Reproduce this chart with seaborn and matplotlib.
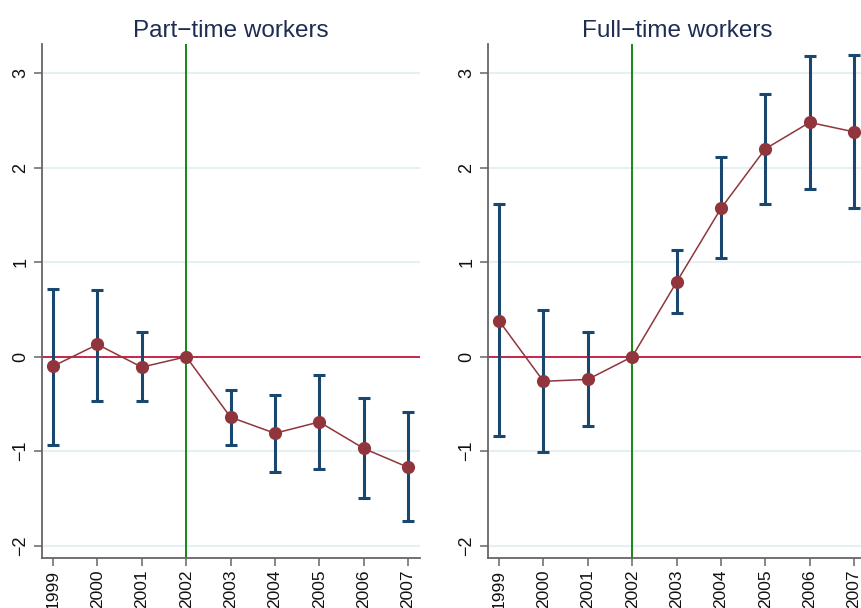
import matplotlib
matplotlib.use("Agg")
import matplotlib.pyplot as plt
import seaborn as sns
import pandas as pd
import numpy as np

# Event-study estimates relative to 2002
years = [1999, 2000, 2001, 2002, 2003, 2004, 2005, 2006, 2007]
year_labels = ["1999", "2000", "2001", "2002", "2003", "2004", "2005", "2006", "2007"]

pt_coef = [-0.10, 0.13, -0.11, 0.0, -0.64, -0.81, -0.69, -0.97, -1.17]
pt_lo = [-0.93, -0.47, -0.47, 0.0, -0.93, -1.22, -1.19, -1.50, -1.74]
pt_hi = [0.72, 0.71, 0.26, 0.0, -0.35, -0.41, -0.19, -0.44, -0.59]

ft_coef = [0.38, -0.26, -0.24, 0.0, 0.79, 1.57, 2.20, 2.48, 2.38]
ft_lo = [-0.84, -1.01, -0.73, 0.0, 0.46, 1.05, 1.62, 1.78, 1.57]
ft_hi = [1.62, 0.49, 0.26, 0.0, 1.13, 2.11, 2.78, 3.18, 3.19]

titles = ["Part\u2212time workers", "Full\u2212time workers"]
y_ticks = [-2, -1, 0, 1, 2, 3]
y_tick_labels = ["\u22122", "\u22121", "0", "1", "2", "3"]
event_year = 2002

sns.set_theme(style="white")
plt.rcParams["font.family"] = ["Liberation Sans", "DejaVu Sans"]

NAVY = "#1a476f"
MAROON = "#90353b"
ZERO_RED = "#c8264a"
GREEN = "#007f00"
GRID = "#e6eff1"
SPINE = "#666666"

W, H = 861, 608
fig = plt.figure(figsize=(W / 100, H / 100), dpi=100)
fig.patch.set_facecolor("white")

panels = [
    (pt_coef, pt_lo, pt_hi, 42),
    (ft_coef, ft_lo, ft_hi, 488),
]

for (coef, lo, hi, left_px), title in zip(panels, titles):
    ax = fig.add_axes([left_px / W, (H - 558) / H, 378 / W, (558 - 44) / H])
    df = pd.DataFrame({"year": years, "coef": coef, "lo": lo, "hi": hi})

    ax.set_xlim(1998.75, 2007.27)
    ax.set_ylim(-2.13, 3.31)

    for yt in y_ticks:
        ax.axhline(yt, color=GRID, lw=1.5, zorder=0)
    ax.axhline(0, color=ZERO_RED, lw=1.4, zorder=1)
    ax.axvline(event_year, color=GREEN, lw=1.3, zorder=1)

    ci = df[df["hi"] != df["lo"]]
    ax.errorbar(ci["year"], (ci["lo"] + ci["hi"]) / 2,
                yerr=(ci["hi"] - ci["lo"]) / 2, fmt="none",
                ecolor=NAVY, elinewidth=2.2, capsize=4.3, capthick=2.2,
                zorder=2)

    sns.lineplot(data=df, x="year", y="coef", ax=ax, color=MAROON,
                 lw=1.1, zorder=3, legend=False)
    sns.scatterplot(data=df, x="year", y="coef", ax=ax, color=MAROON,
                    s=90, edgecolor=MAROON, linewidth=0, zorder=4,
                    legend=False)

    ax.set_xticks(years)
    ax.set_xticklabels(year_labels, rotation=90, fontsize=12.5)
    ax.set_yticks(y_ticks)
    ax.set_yticklabels(y_tick_labels, rotation=90, va="center",
                       fontsize=13)
    ax.tick_params(axis="both", direction="out", length=6, width=1.1,
                   color=SPINE, labelcolor="#111111", pad=3,
                   bottom=True, left=True)
    ax.tick_params(axis="x", pad=2.5)
    ax.set_xlabel("")
    ax.set_ylabel("")

    for side in ["top", "right"]:
        ax.spines[side].set_visible(False)
    for side in ["left", "bottom"]:
        ax.spines[side].set_color(SPINE)
        ax.spines[side].set_linewidth(1.3)

    ax.set_title(title, fontsize=17.5, color="#1e2d52", pad=5)

fig.savefig("out.png", dpi=100)
